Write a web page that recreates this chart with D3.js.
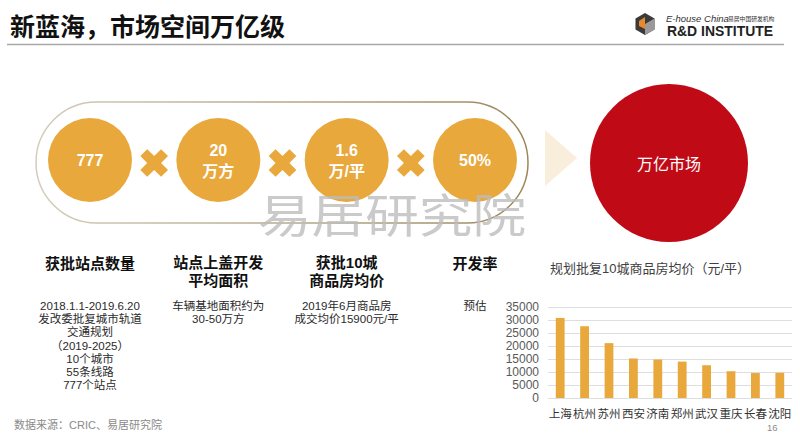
<!DOCTYPE html>
<html lang="zh-CN">
<head>
<meta charset="utf-8">
<script src="https://cdn.jsdelivr.net/npm/d3@7"></script>
<style>
  body { margin: 0; background: #fff; }
  svg { display: block; font-family: "Liberation Sans", "Noto Sans CJK SC", sans-serif; }
  .grid line { stroke: #dedede; stroke-width: 1; }
  .grid path { display: none; }
  .ylab text { fill: #595959; font-size: 12px; }
  .ylab path, .ylab line { display: none; }
</style>
</head>
<body>
<svg width="800" height="433"></svg>
<script>
const pageTitle = "新蓝海，市场空间万亿级";
const factorLabels = [["777"], ["20", "万方"], ["1.6", "万/平"], ["50%"]];
const factorTitles = [["获批站点数量"], ["站点上盖开发", "平均面积"], ["获批10城", "商品房均价"], ["开发率"]];
const factorNotes = [
  ["2018.1.1-2019.6.20", "发改委批复城市轨道", "交通规划", "（2019-2025）", "10个城市", "55条线路", "777个站点"],
  ["车辆基地面积约为", "30-50万方"],
  ["2019年6月商品房", "成交均价15900元/平"],
  ["预估"]
];
const resultLabel = "万亿市场";

const chartTitle = "规划批复10城商品房均价（元/平）";
const cities = ["上海", "杭州", "苏州", "西安", "济南", "郑州", "武汉", "重庆", "长春", "沈阳"];
const prices = [30800, 27600, 21100, 15200, 14800, 14000, 12600, 10300, 9600, 9700];
const yTicks = [0, 5000, 10000, 15000, 20000, 25000, 30000, 35000];

const source = "数据来源：CRIC、易居研究院";
const pageNo = "16";

const orange = "#E8A83C";

const svg = d3.select("svg");

// header
svg.append("text")
    .attr("x", 10).attr("y", 36)
    .attr("font-size", 25).attr("font-weight", 700)
    .attr("font-family", "Noto Sans CJK SC")
    .attr("fill", "#111")
    .text(pageTitle);

svg.append("line")
    .attr("x1", 7).attr("x2", 784)
    .attr("y1", 44.5).attr("y2", 44.5)
    .attr("stroke", "#a8a8a8").attr("stroke-width", 1.5);

// logo
const logo = svg.append("g").attr("transform", "translate(645,24)");
const hex = (r) => d3.range(6).map(i => {
  const a = Math.PI / 3 * i + Math.PI / 6;
  return [r * Math.cos(a), r * Math.sin(a)];
});
const h = hex(11);
logo.append("path").attr("d", d3.line()(h) + "Z").attr("fill", "#3a3a3a");
logo.append("path").attr("d", d3.line()([[0, 0], h[5], h[0], h[1]]) + "Z").attr("fill", "#9a9a9a");
logo.append("path").attr("d", d3.line()([[-6, -3], [0, -7], [0, 5], [-6, 2]]) + "Z").attr("fill", "#E8892B");
svg.append("text")
    .attr("x", 666).attr("y", 22)
    .attr("font-size", 9.5).attr("font-style", "italic").attr("fill", "#333")
    .text("E-house China");
svg.append("text")
    .attr("x", 728).attr("y", 21)
    .attr("font-size", 5.8).attr("fill", "#333")
    .attr("font-family", "Noto Sans CJK SC")
    .text("易居中国研发机构");
svg.append("text")
    .attr("x", 667).attr("y", 36)
    .attr("font-size", 14).attr("font-weight", 700).attr("fill", "#222")
    .attr("textLength", 106).attr("lengthAdjust", "spacingAndGlyphs")
    .text("R&D INSTITUTE");

// pill outline
const defs = svg.append("defs");
const grad = defs.append("linearGradient").attr("id", "pillGrad");
grad.append("stop").attr("offset", "0%").attr("stop-color", "#d4ccbd");
grad.append("stop").attr("offset", "100%").attr("stop-color", "#9b8759");

svg.append("rect")
    .attr("x", 36).attr("y", 102)
    .attr("width", 492).attr("height", 121)
    .attr("rx", 60.5).attr("ry", 60.5)
    .attr("fill", "none")
    .attr("stroke", "url(#pillGrad)").attr("stroke-width", 1.5);

const fx = d3.scalePoint()
    .domain(d3.range(factorLabels.length))
    .range([90, 475]);

const cy = 160;

const factors = svg.append("g").selectAll("g")
  .data(factorLabels)
  .join("g")
    .attr("transform", (d, i) => `translate(${fx(i)},${cy})`);

factors.append("circle")
    .attr("r", 42)
    .attr("fill", orange);

factors.append("text")
    .attr("text-anchor", "middle")
    .attr("fill", "#fff")
    .attr("font-weight", 700)
    .attr("font-size", 16)
    .selectAll("tspan")
    .data(d => d.map((t, k) => ({ t, k, n: d.length })))
    .join("tspan")
      .attr("x", 0)
      .attr("y", d => (d.k - (d.n - 1) / 2) * 21 + 6)
      .text(d => d.t);

// multiply signs between circles
const cross = d3.symbol(d3.symbolCross, 480);
svg.append("g").selectAll("path")
  .data(d3.range(factorLabels.length - 1))
  .join("path")
    .attr("d", cross)
    .attr("fill", orange)
    .attr("transform", i => `translate(${(fx(i) + fx(i + 1)) / 2},${cy + 3}) rotate(45)`);

// arrow + result circle
svg.append("path")
    .attr("d", d3.line()([[545, 130], [577, 158], [545, 186]]) + "Z")
    .attr("fill", "#f8eedb");

svg.append("circle")
    .attr("cx", 669).attr("cy", 163).attr("r", 79)
    .attr("fill", "#C00B17");

svg.append("text")
    .attr("x", 669).attr("y", 170)
    .attr("text-anchor", "middle")
    .attr("fill", "#fff")
    .attr("font-size", 16)
    .attr("font-family", "Noto Sans CJK SC")
    .text(resultLabel);

// watermark
svg.append("text")
    .attr("x", 258).attr("y", 232)
    .attr("font-size", 46)
    .attr("font-family", "Noto Sans CJK SC")
    .attr("font-weight", 400)
    .attr("fill", "#bdbdbd")
    .attr("opacity", 0.8)
    .attr("textLength", 268).attr("lengthAdjust", "spacingAndGlyphs")
    .text("易居研究院");

// column titles and notes
const titleG = svg.append("g").selectAll("text")
  .data(factorTitles)
  .join("text")
    .attr("text-anchor", "middle")
    .attr("font-size", 15)
    .attr("font-weight", 700)
    .attr("fill", "#111");

titleG.selectAll("tspan")
  .data((d, i) => d.map((t, k) => ({ t, k, i, n: d.length })))
  .join("tspan")
    .attr("x", d => fx(d.i))
    .attr("y", d => d.n === 1 ? 269 : 268 + d.k * 18)
    .text(d => d.t);

const noteG = svg.append("g").selectAll("text")
  .data(factorNotes)
  .join("text")
    .attr("text-anchor", "middle")
    .attr("font-size", 11.5)
    .attr("fill", "#2a2a2a");

noteG.selectAll("tspan")
  .data((d, i) => d.map((t, k) => ({ t, k, i })))
  .join("tspan")
    .attr("x", d => fx(d.i))
    .attr("y", d => 310 + d.k * 13.2)
    .text(d => d.t);

// bar chart
const x = d3.scaleBand()
    .domain(cities)
    .range([548, 792])
    .paddingInner(0.64)
    .paddingOuter(0.32);

const y = d3.scaleLinear()
    .domain([0, 35000])
    .range([398, 307]);

svg.append("text")
    .attr("x", 650).attr("y", 273)
    .attr("text-anchor", "middle")
    .attr("font-size", 13)
    .attr("fill", "#404040")
    .text(chartTitle);

svg.append("g")
    .attr("class", "grid")
    .attr("transform", "translate(548,0)")
    .call(d3.axisLeft(y).tickValues(yTicks).tickSize(-244).tickFormat(""));

svg.append("g")
    .attr("class", "ylab")
    .attr("transform", "translate(543,0)")
    .call(d3.axisLeft(y).tickValues(yTicks).tickSize(0).tickPadding(4).tickFormat(d3.format("d")));

svg.append("g").selectAll("rect")
  .data(prices)
  .join("rect")
    .attr("x", (d, i) => x(cities[i]))
    .attr("width", x.bandwidth())
    .attr("y", d => y(d))
    .attr("height", d => y(0) - y(d))
    .attr("fill", orange);

svg.append("g").selectAll("text")
  .data(cities)
  .join("text")
    .attr("x", d => x(d) + x.bandwidth() / 2)
    .attr("y", 418)
    .attr("text-anchor", "middle")
    .attr("font-size", 11.5)
    .attr("fill", "#333")
    .attr("font-family", "Noto Sans CJK SC")
    .text(d => d);

// footer
svg.append("text")
    .attr("x", 14).attr("y", 429)
    .attr("font-size", 11)
    .attr("fill", "#8a8a8a")
    .text(source);

svg.append("text")
    .attr("x", 767).attr("y", 431)
    .attr("font-size", 9.5)
    .attr("fill", "#8a8a8a")
    .text(pageNo);
</script>
</body>
</html>
